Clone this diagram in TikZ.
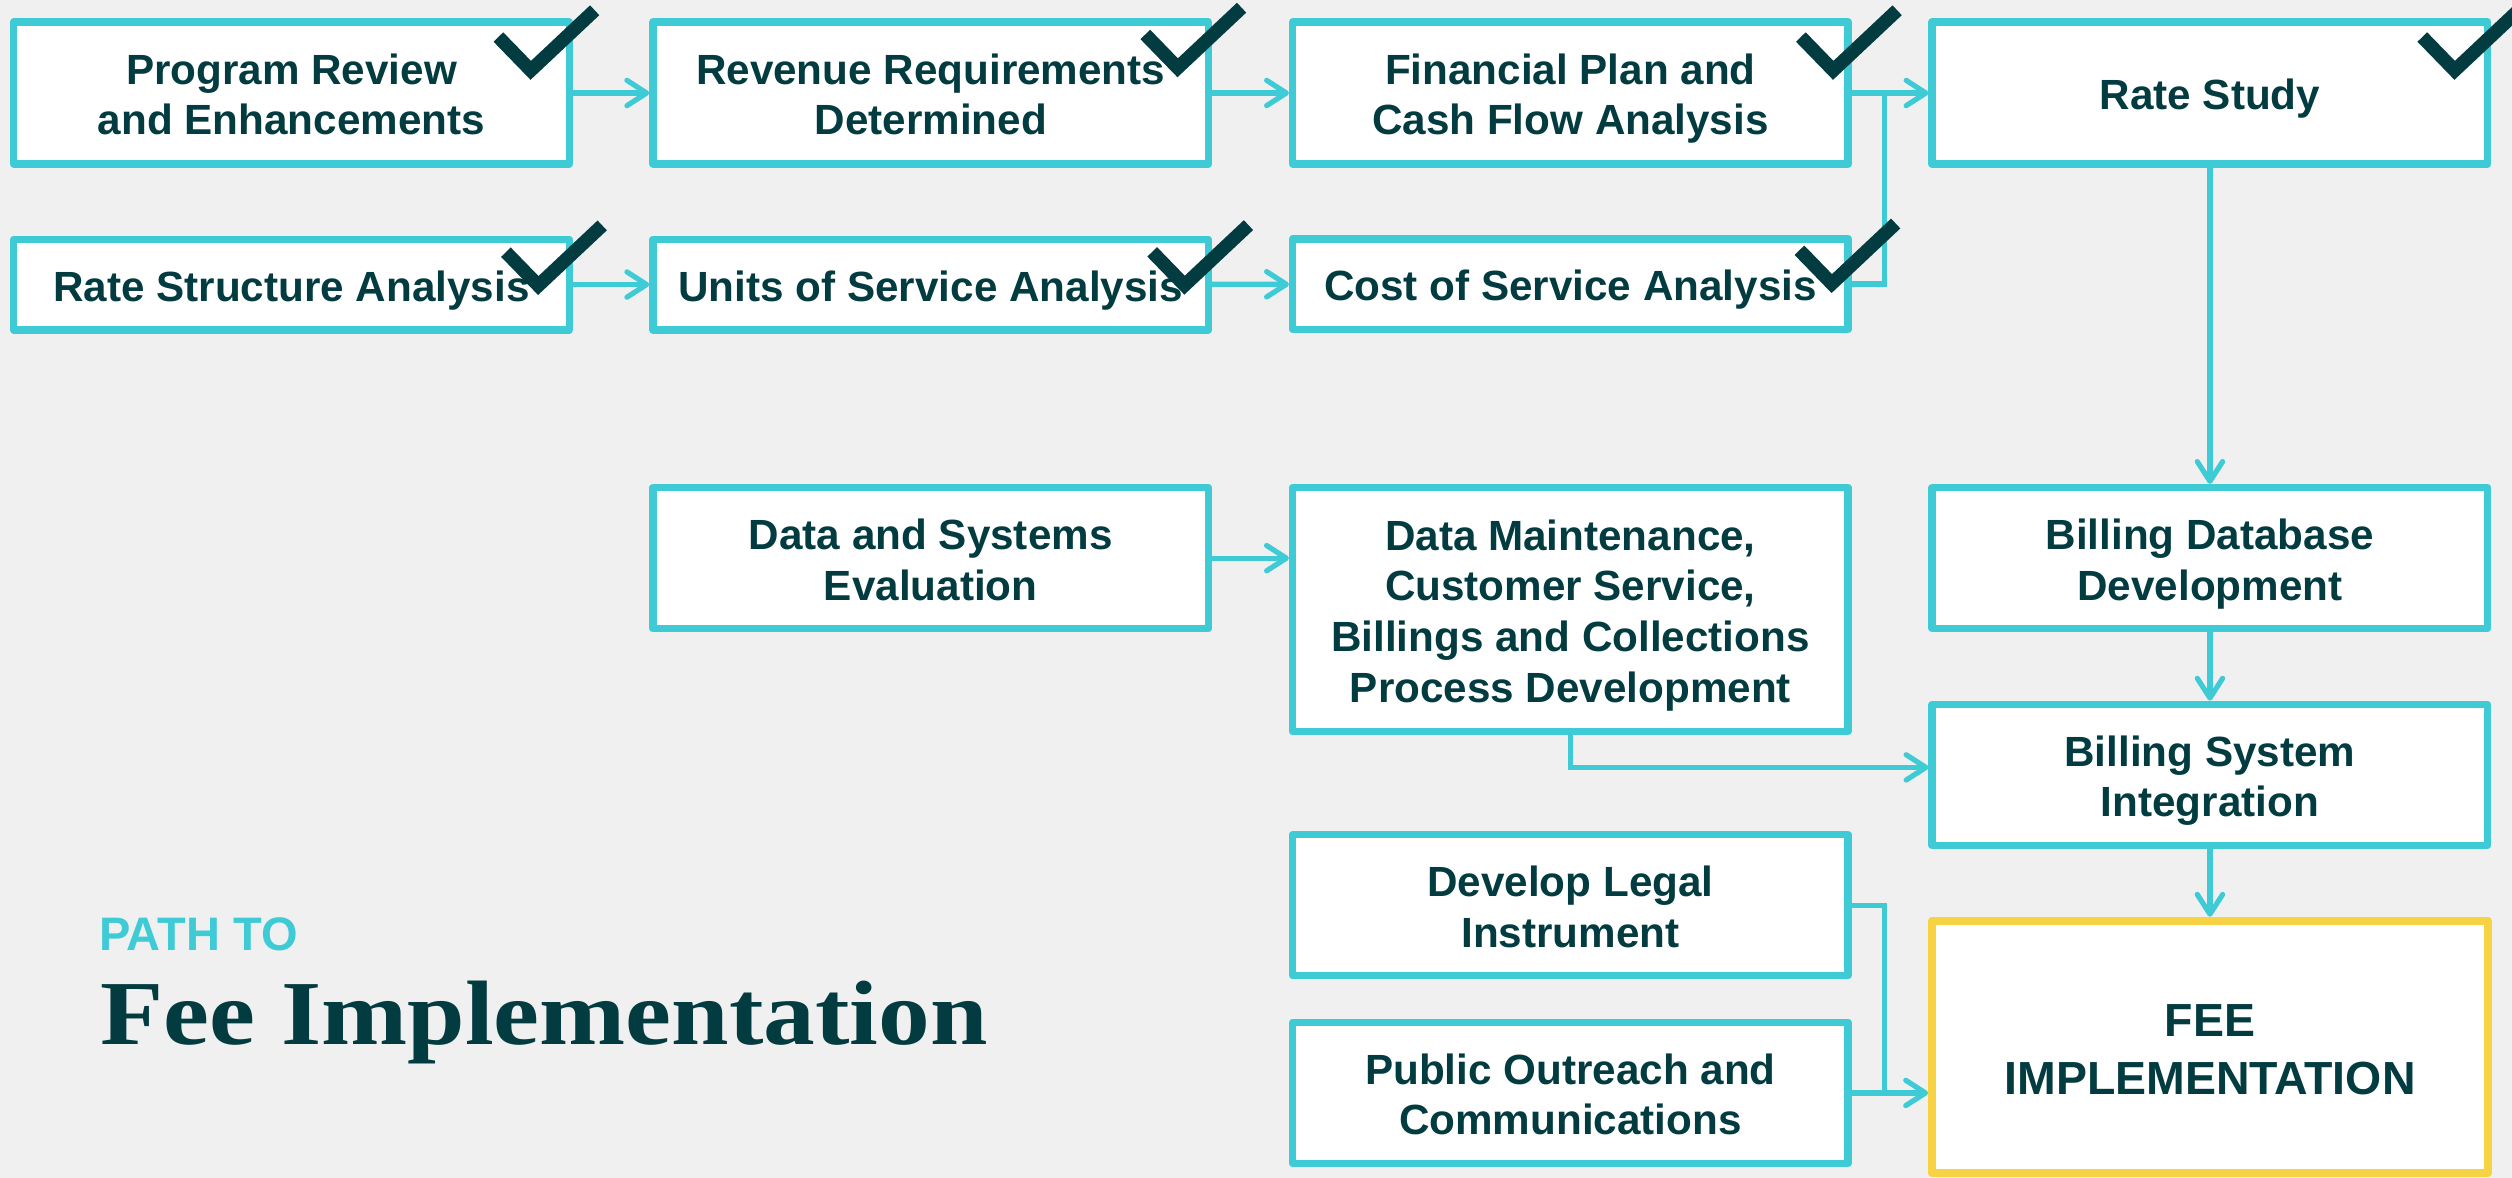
\documentclass[tikz,border=0pt]{standalone}
\usepackage{fontspec}
\setmainfont{Liberation Sans}
\newfontfamily\titlefont[FakeStretch=1.13]{Liberation Serif}
\usetikzlibrary{arrows.meta}
\definecolor{cyanc}{HTML}{3FCBD6}
\definecolor{darkc}{HTML}{033C40}
\definecolor{bgc}{HTML}{F0F0F0}
\definecolor{yellowc}{HTML}{F7D344}
\newcommand\mytop{\rule{0pt}{15.8pt}}
\newcommand\mybot{\rule[-4pt]{0pt}{4pt}}
\tikzset{
  box/.style={draw=cyanc, line width=2.65pt, fill=white, minimum width=6.936cm,
    minimum height=1.762cm, inner sep=0pt, align=center,
    font=\fontsize{15}{18}\selectfont\bfseries, text=darkc, line join=round},
  shortbox/.style={box, minimum height=1.13cm},
  conn/.style={draw=cyanc, line width=1.85pt},
  arr/.style={conn, -{Straight Barb[length=7pt,width=9pt,round]}},
  checkmark/.style={draw=darkc, line width=4.8pt, line cap=butt, miter limit=10},
  chk/.pic={\draw[checkmark] (-20.2,-20.8) -- (0,0) -- (39.9,-37.5);}
}
\begin{document}
\begin{tikzpicture}[x=0.02cm,y=-0.02cm]
\fill[bgc] (0,0) rectangle (1568,735);
\useasboundingbox (0,0) rectangle (1568,735);

% row 1
\node[box, minimum height=1.772cm] (pr)  at (181.95,58.05) {\mytop Program Review\\and Enhancements\mybot};
\node[box, minimum height=1.772cm] (rev) at (580.95,58.05) {\mytop Revenue Requirements\\Determined\mybot};
\node[box, minimum height=1.772cm] (fin) at (980.25,58.05) {\mytop Financial Plan and\\Cash Flow Analysis\mybot};
\node[box, minimum height=1.772cm] (rs)  at (1379.45,58.05) {\mytop Rate Study\mybot};
% row 2
\node[shortbox] (rsa) at (181.95,177.6) {\mytop Rate Structure Analysis\mybot};
\node[shortbox] (usa) at (580.95,177.6) {\mytop Units of Service Analysis\mybot};
\node[shortbox] (csa) at (980.25,177.3) {\mytop Cost of Service Analysis\mybot};
% lower part
\node[box] (dse) at (580.95,348.4) {\mytop Data and Systems\\Evaluation\mybot};
\node[box, minimum height=3.046cm] (dm) at (980.25,380.5) {\mytop Data Maintenance,\\Customer Service,\\Billings and Collections\\Process Development\mybot};
\node[box] (bdb) at (1379.45,348.4) {\mytop Billing Database\\Development\mybot};
\node[box] (bsi) at (1379.45,483.7) {\mytop Billing System\\Integration\mybot};
\node[box] (legal) at (980.25,565) {\mytop Develop Legal\\Instrument\mybot};
\node[box] (pub) at (980.25,682.2) {\mytop Public Outreach and\\Communications\mybot};
\node[box, draw=yellowc, line width=2.95pt, minimum height=3.152cm,
      font=\fontsize{16.5}{20.7}\selectfont\bfseries] (fee) at (1379.45,653.6) {\rule{0pt}{17pt}FEE\\IMPLEMENTATION\mybot};

% connectors
\draw[arr] (pr) -- (rev);
\draw[arr] (rev) -- (fin);
\draw[arr] (fin) -- (rs);
\coordinate (j1) at (1176.2,58.05);
\draw[conn] (csa.east) -| (j1);
\draw[arr] (rsa) -- (usa);
\draw[arr] (usa) -- (csa);
\draw[arr] (rs) -- (bdb);
\draw[arr] (bdb) -- (bsi);
\draw[arr] (bsi) -- (fee);
\draw[arr] (dse.east) -- (dse.east -| dm.west);
\coordinate (j2) at (980.25,479);
\draw[arr] (dm.south) -- (j2) -- (j2 -| bsi.west);
\coordinate (j3) at (1176.2,682.2);
\draw[conn] (legal.east) -| (j3);
\draw[arr] (pub.east) -- (pub.east -| fee.west);

% check marks
\pic at (331.3,43.9) {chk};
\pic at (735.1,42.3) {chk};
\pic at (1144.3,43.9) {chk};
\pic at (1532.2,43.9) {chk};
\pic at (336,178.2) {chk};
\pic at (739.4,178) {chk};
\pic at (1143.4,177) {chk};

% title
\node[anchor=base west, inner sep=0pt, text=cyanc, font=\fontsize{16.7}{20}\selectfont\bfseries] (path) at (61.5,593.4) {PATH TO};
\node[anchor=base west, inner sep=0pt, text=darkc, font=\titlefont\fontsize{32.5}{36}\selectfont\bfseries] (title) at (62.5,652) {Fee Implementation};
\end{tikzpicture}
\end{document}
